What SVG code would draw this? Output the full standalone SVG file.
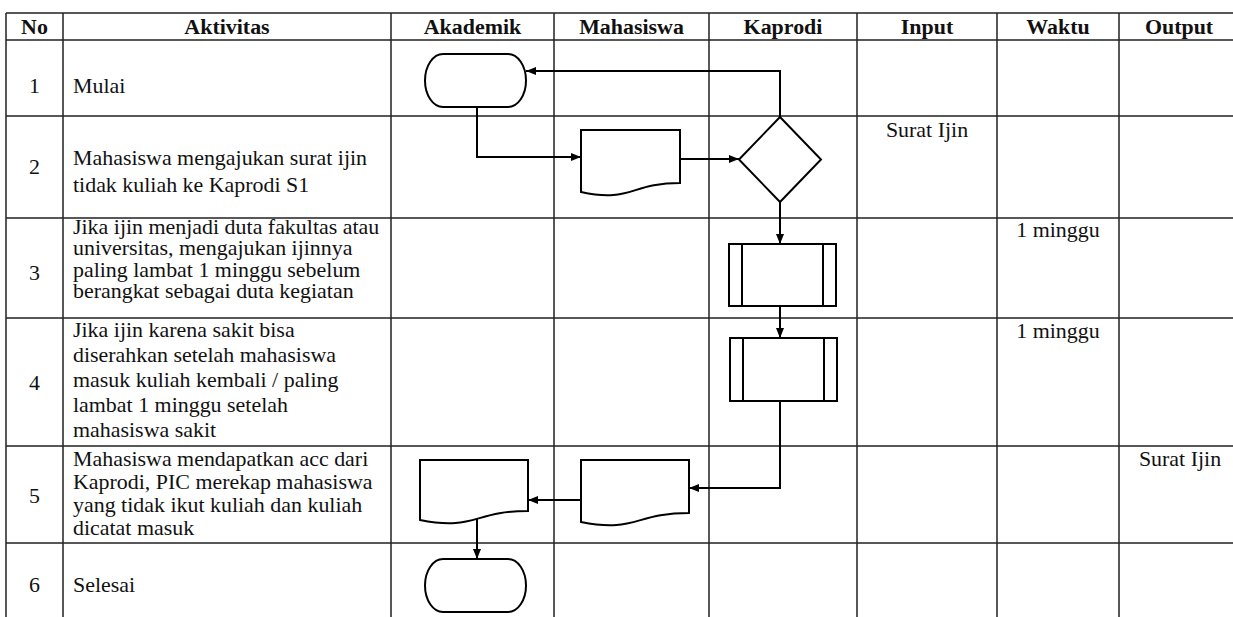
<svg xmlns="http://www.w3.org/2000/svg" width="1233" height="617" viewBox="0 0 1233 617">
<style>
.grid{stroke:#222;stroke-width:1.5;fill:none}
.shape{stroke:#000;stroke-width:2;fill:#fff}
.conn{stroke:#000;stroke-width:2;fill:none}
.t{font-family:"Liberation Serif","Times New Roman",serif;font-size:20.5px;fill:#111}
.h{font-family:"Liberation Serif","Times New Roman",serif;font-size:20.5px;font-weight:bold;fill:#111}
.c{text-anchor:middle}
</style>
<defs>
<marker id="arr" markerWidth="10" markerHeight="8" refX="10" refY="4" orient="auto" markerUnits="userSpaceOnUse">
<path d="M0,0 L10,4 L0,8 Z" fill="#000"/>
</marker>
</defs>
<rect width="1233" height="617" fill="#fff"/>
<g id="table">
<path class="grid" d="M6,13 H1233 M6,40 H1233 M6,116 H1233 M6,218 H1233 M6,318 H1233 M6,446 H1233 M6,543 H1233"/>
<path class="grid" d="M6,13 V617 M63,13 V617 M391,13 V617 M554,13 V617 M709,13 V617 M857,13 V617 M997,13 V617 M1119,13 V617"/>
</g>
<g id="headers">
<text class="h c" transform="translate(34.5,34) scale(1.07,1)">No</text>
<text class="h c" transform="translate(227,34) scale(1.07,1)">Aktivitas</text>
<text class="h c" transform="translate(472.5,34) scale(1.07,1)">Akademik</text>
<text class="h c" transform="translate(631.5,34) scale(1.07,1)">Mahasiswa</text>
<text class="h c" transform="translate(783,34) scale(1.07,1)">Kaprodi</text>
<text class="h c" transform="translate(927,34) scale(1.07,1)">Input</text>
<text class="h c" transform="translate(1058,34) scale(1.07,1)">Waktu</text>
<text class="h c" transform="translate(1179,34) scale(1.07,1)">Output</text>
</g>
<g id="numbers">
<text class="t c" transform="translate(34.5,93) scale(1.07,1)">1</text>
<text class="t c" transform="translate(34.5,174) scale(1.07,1)">2</text>
<text class="t c" transform="translate(34.5,280) scale(1.07,1)">3</text>
<text class="t c" transform="translate(34.5,390) scale(1.07,1)">4</text>
<text class="t c" transform="translate(34.5,503) scale(1.07,1)">5</text>
<text class="t c" transform="translate(34.5,592) scale(1.07,1)">6</text>
</g>
<g id="activities">
<text class="t" transform="translate(73,93) scale(1.07,1)">Mulai</text>
<text class="t" transform="translate(73,165) scale(1.07,1)"><tspan x="0" y="0">Mahasiswa mengajukan surat ijin</tspan><tspan x="0" y="27">tidak kuliah ke Kaprodi S1</tspan></text>
<text class="t" transform="translate(73,234) scale(1.07,1)"><tspan x="0" y="0">Jika ijin menjadi duta fakultas atau</tspan><tspan x="0" y="21.5">universitas, mengajukan ijinnya</tspan><tspan x="0" y="43">paling lambat 1 minggu sebelum</tspan><tspan x="0" y="64.5">berangkat sebagai duta kegiatan</tspan></text>
<text class="t" transform="translate(73,337) scale(1.07,1)"><tspan x="0" y="0">Jika ijin karena sakit bisa</tspan><tspan x="0" y="25">diserahkan setelah mahasiswa</tspan><tspan x="0" y="50">masuk kuliah kembali / paling</tspan><tspan x="0" y="75">lambat 1 minggu setelah</tspan><tspan x="0" y="100">mahasiswa sakit</tspan></text>
<text class="t" transform="translate(73,466) scale(1.07,1)"><tspan x="0" y="0">Mahasiswa mendapatkan acc dari</tspan><tspan x="0" y="23">Kaprodi, PIC merekap mahasiswa</tspan><tspan x="0" y="46">yang tidak ikut kuliah dan kuliah</tspan><tspan x="0" y="69">dicatat masuk</tspan></text>
<text class="t" transform="translate(73,592) scale(1.07,1)">Selesai</text>
</g>
<g id="io">
<text class="t c" transform="translate(927,137) scale(1.07,1)">Surat Ijin</text>
<text class="t c" transform="translate(1058,237) scale(1.07,1)">1 minggu</text>
<text class="t c" transform="translate(1058,338) scale(1.07,1)">1 minggu</text>
<text class="t c" transform="translate(1180,466) scale(1.07,1)">Surat Ijin</text>
</g>
<g id="connectors">
<path class="conn" d="M780,117 V71 H526" marker-end="url(#arr)"/>
<path class="conn" d="M477,107 V157 H581" marker-end="url(#arr)"/>
<path class="conn" d="M680,159 H739" marker-end="url(#arr)"/>
<path class="conn" d="M780,202 V244" marker-end="url(#arr)"/>
<path class="conn" d="M780,306 V338" marker-end="url(#arr)"/>
<path class="conn" d="M780,401 V488 H689" marker-end="url(#arr)"/>
<path class="conn" d="M581,500 H528" marker-end="url(#arr)"/>
<path class="conn" d="M477,515 V559" marker-end="url(#arr)"/>
</g>
<g id="start">
<rect class="shape" x="425" y="54" width="101" height="53" rx="18" ry="26.5"/>
</g>
<g id="doc-mahasiswa-1">
<path class="shape" d="M581,130 H680 V183 C630.5,183 630.5,203 581,192 Z"/>
</g>
<g id="decision">
<path class="shape" d="M780,117 L821,159.5 L780,202 L739,159.5 Z"/>
</g>
<g id="process-1">
<rect class="shape" x="729" y="244" width="107" height="62"/>
<path class="conn" d="M742,244 V306 M823,244 V306"/>
</g>
<g id="process-2">
<rect class="shape" x="730" y="338" width="107" height="63"/>
<path class="conn" d="M743,338 V401 M824,338 V401"/>
</g>
<g id="doc-mahasiswa-2">
<path class="shape" d="M581,460 H689 V513 C635,513 635,533 581,522 Z"/>
</g>
<g id="doc-akademik">
<path class="shape" d="M420,460 H528 V511 C474,511 474,531 420,520 Z"/>
</g>
<g id="end">
<rect class="shape" x="425" y="559" width="101" height="53" rx="18" ry="26.5"/>
</g>
</svg>
